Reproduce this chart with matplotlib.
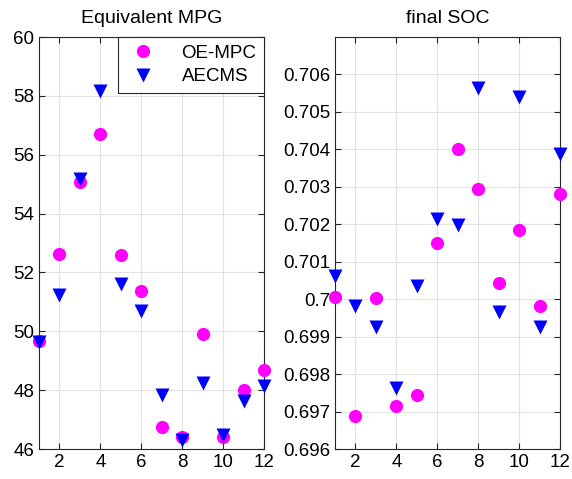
import matplotlib.pyplot as plt
import numpy as np

plt.rcParams["font.family"] = ["Liberation Sans", "DejaVu Sans"]

# =============================================================================
# Data
# =============================================================================
cycles = list(range(1, 13))

mpg_oe_mpc = [49.66, 52.63, 55.07, 56.70, 52.60, 51.36,
              46.75, 46.41, 49.91, 46.41, 48.02, 48.70]
mpg_aecms = [49.62, 51.22, 55.19, 58.17, 51.62, 50.68,
             47.83, 46.32, 48.24, 46.47, 47.62, 48.15]

soc_oe_mpc = [0.70005, 0.69687, 0.70002, 0.69714, 0.69743, 0.70150,
              0.70400, 0.70295, 0.70043, 0.70186, 0.69981, 0.70281]
soc_aecms = [0.70063, 0.69981, 0.69926, 0.69763, 0.70036, 0.70214,
             0.70198, 0.70563, 0.69967, 0.70539, 0.69926, 0.70387]

mpg_ticks = [46, 48, 50, 52, 54, 56, 58, 60]
soc_ticks = [0.696, 0.697, 0.698, 0.699, 0.700, 0.701,
             0.702, 0.703, 0.704, 0.705, 0.706]
soc_tick_labels = ["0.696", "0.697", "0.698", "0.699", "0.7", "0.701",
                   "0.702", "0.703", "0.704", "0.705", "0.706"]
x_ticks = [2, 4, 6, 8, 10, 12]


def style_axes(ax):
    ax.set_xlim(1, 12)
    ax.set_xticks(x_ticks)
    ax.grid(True, color="#e3e3e3", linewidth=0.8)
    ax.set_axisbelow(True)
    ax.tick_params(direction="in", top=True, right=True, length=4,
                   labelsize=13.5, color="#262626")
    for s in ax.spines.values():
        s.set_color("#262626")
        s.set_linewidth(0.8)


fig = plt.figure(figsize=(5.72, 4.79), dpi=100)
W, H = 572, 479
ax1 = fig.add_axes([39 / W, 30 / H, 225 / W, 412 / H])
ax2 = fig.add_axes([335 / W, 30 / H, 225 / W, 412 / H])

# --- Equivalent MPG ---------------------------------------------------------
ax1.plot(cycles, mpg_oe_mpc, "o", color="#ff00ff", ms=9.5, mec="none",
         label="OE-MPC", clip_on=False, zorder=3)
ax1.plot(cycles, mpg_aecms, "v", color="#0000ff", ms=10, mec="none",
         label="AECMS", clip_on=False, zorder=4)
ax1.set_ylim(46, 60)
ax1.set_yticks(mpg_ticks)
style_axes(ax1)
ax1.set_title("Equivalent MPG", fontsize=14, pad=10)
leg = ax1.legend(loc="upper right", fontsize=13.5, fancybox=False,
                 edgecolor="#262626", framealpha=1, borderaxespad=0,
                 handletextpad=1.1, borderpad=0.4, labelspacing=0.35,
                 handlelength=1.9)
leg.get_frame().set_linewidth(0.8)

# --- final SOC --------------------------------------------------------------
ax2.plot(cycles, soc_oe_mpc, "o", color="#ff00ff", ms=9.5, mec="none",
         clip_on=False, zorder=3)
ax2.plot(cycles, soc_aecms, "v", color="#0000ff", ms=10, mec="none",
         clip_on=False, zorder=4)
ax2.set_ylim(0.696, 0.707)
ax2.set_yticks(soc_ticks)
ax2.set_yticklabels(soc_tick_labels)
style_axes(ax2)
ax2.set_title("final SOC", fontsize=14, pad=10)

fig.savefig("out.png", dpi=100)
